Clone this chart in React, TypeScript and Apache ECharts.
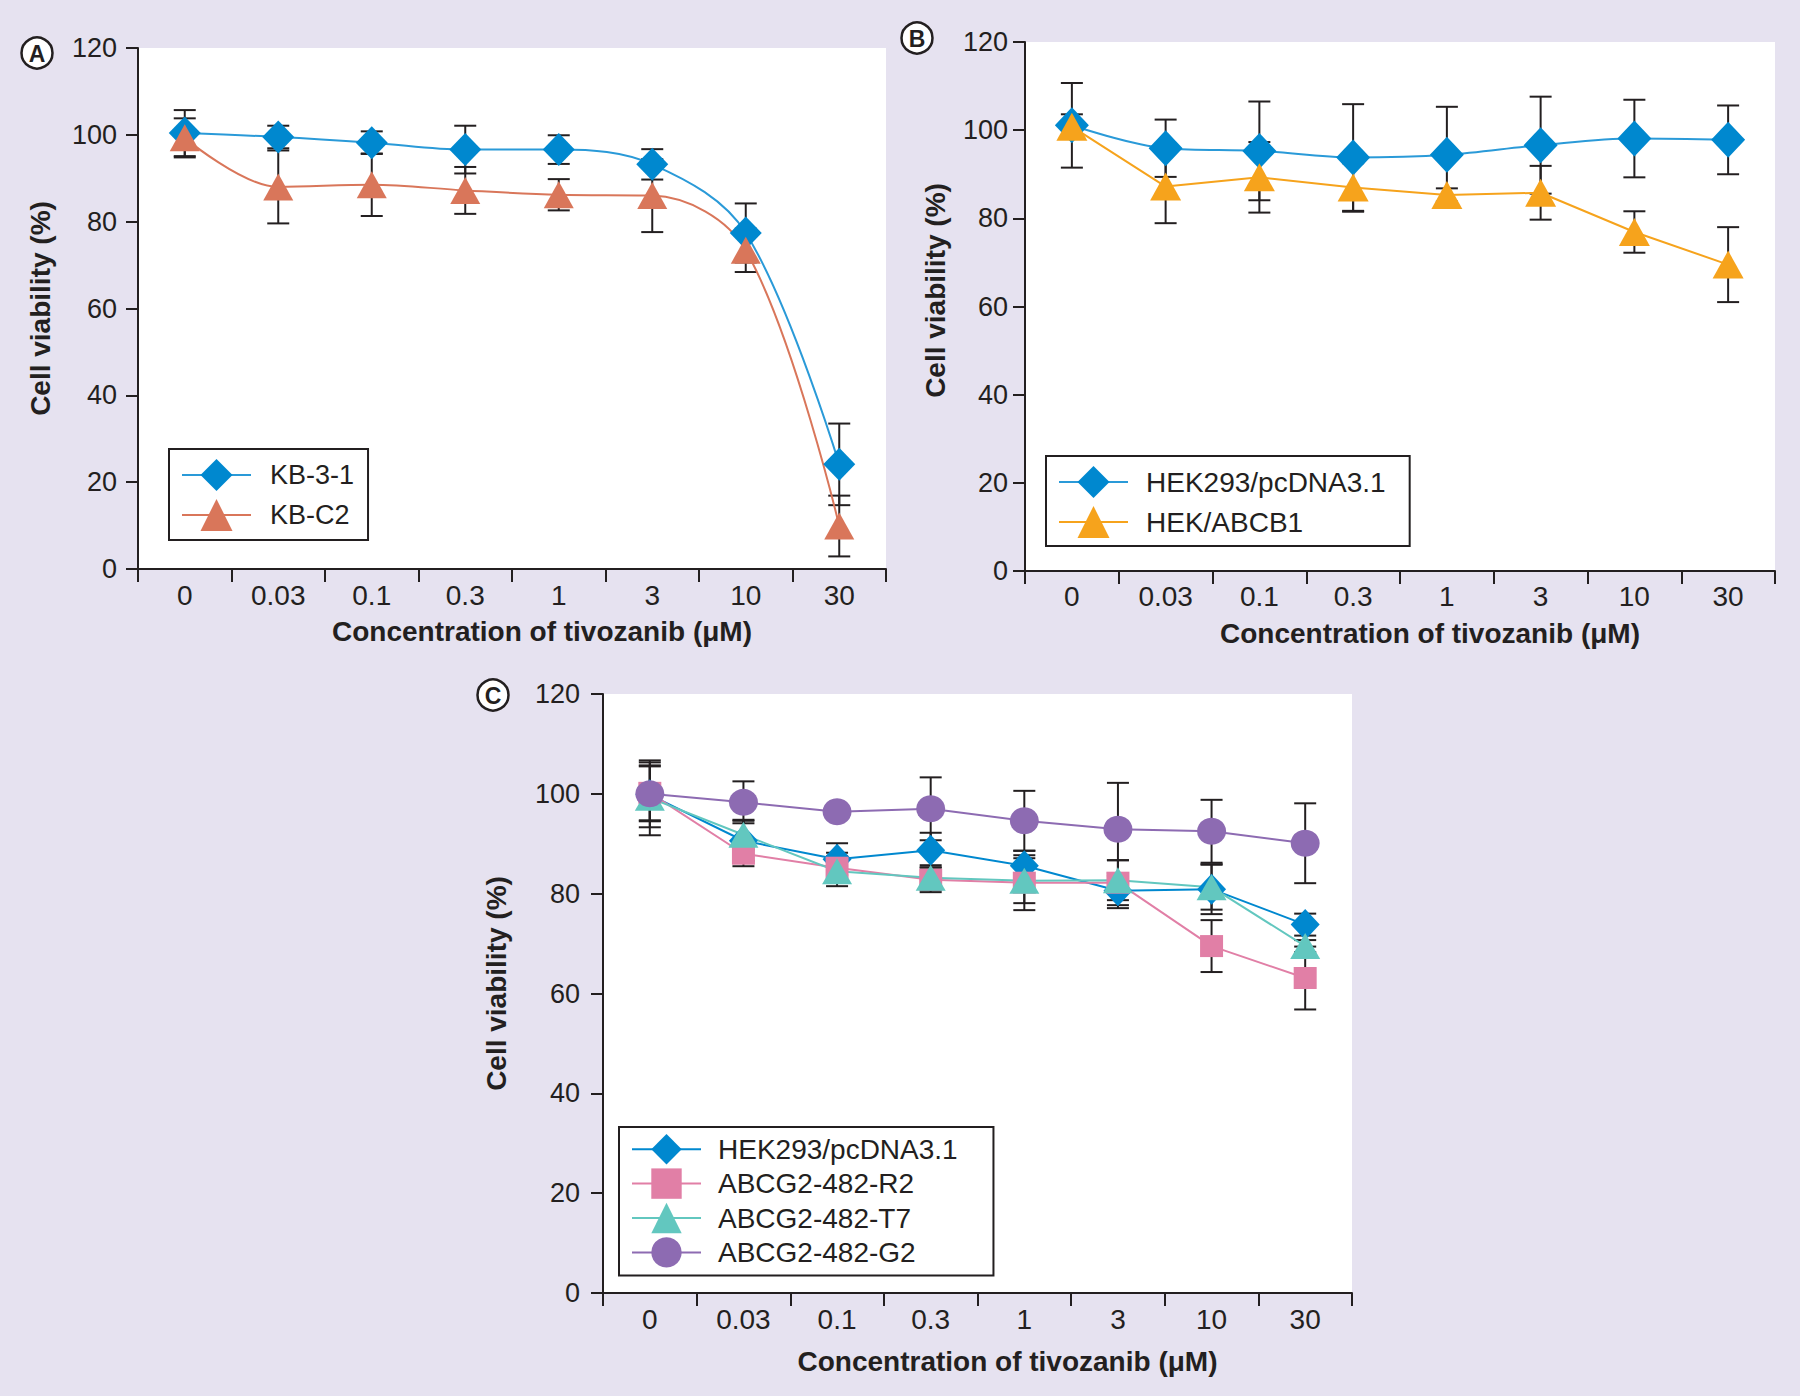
import React, { useEffect, useRef } from "react";
import * as echarts from "echarts";

// ---------- data ----------
const categories = ["0", "0.03", "0.1", "0.3", "1", "3", "10", "30"];
const yTicks = [0, 20, 40, 60, 80, 100, 120];

// Panel A
const kb31 = [100.4, 99.5, 98.2, 96.6, 96.6, 93.2, 77.4, 24.1];
const kb31Sd = [5.3, 2.6, 2.6, 5.5, 3.3, 3.5, 6.8, 9.4];
const kbc2 = [99.3, 88.0, 88.5, 87.2, 86.2, 86.0, 73.4, 9.9];
const kbc2Sd = [4.5, 8.4, 7.2, 5.4, 3.6, 8.4, 5.0, 7.0];

// Panel B
const hekB = [101.1, 95.9, 95.3, 93.8, 94.4, 96.6, 98.1, 97.8];
const hekBSd = [9.6, 6.5, 11.2, 12.1, 10.9, 11.0, 8.8, 7.8];
const abcb1 = [100.8, 87.2, 89.3, 87.0, 85.3, 85.8, 76.9, 69.5];
const abcb1Sd = [2.8, 8.3, 8.0, 5.5, 1.5, 6.1, 4.7, 8.5];

// Panel C
const hekC = [99.8, 90.6, 86.9, 88.7, 85.6, 80.6, 80.9, 73.8];
const hekCSd = [6.5, 4.0, 3.2, 3.5, 3.0, 3.5, 5.0, 2.2];
const r2 = [100.2, 88.0, 85.2, 82.8, 82.2, 82.2, 69.5, 63.1];
const r2Sd = [5.5, 2.5, 3.0, 2.5, 5.5, 4.5, 5.2, 6.3];
const t7 = [99.2, 91.8, 84.5, 83.2, 82.6, 82.7, 81.3, 69.5];
const t7Sd = [7.5, 3.0, 3.0, 2.5, 4.5, 4.0, 4.5, 1.2];
const g2 = [100.0, 98.3, 96.4, 97.0, 94.6, 92.9, 92.5, 90.1];
const g2Sd = [5.5, 4.2, 0.8, 6.3, 6.0, 9.3, 6.3, 8.0];

const xName = "Concentration of tivozanib (μM)";
const yName = "Cell viability (%)";

// ---------- styling ----------
const FONT = '"Liberation Sans", Arial, Helvetica, sans-serif';
const INK = "#231f20";
const BG = "#e6e2f0";
const BLUE = "#0088cf";
const BLUE_LINE = "#2a9ad8";
const SALMON = "#d9765a";
const ORANGE = "#f6a31c";
const PINK = "#e17fa6";
const TEAL = "#62c7bf";
const PURPLE = "#8d6bb2";

function errSeries(name: string, idx: number, means: number[], sd: number[]) {
  return {
    type: "custom",
    name,
    xAxisIndex: idx,
    yAxisIndex: idx,
    z: 1,
    silent: true,
    encode: { x: 0, y: 1 },
    data: means.map((m, i) => [i, m, sd[i]]),
    renderItem: (params: any, api: any) => {
      const i = api.value(0);
      const m = api.value(1);
      const s = api.value(2);
      const top = api.coord([i, m + s]);
      const bot = api.coord([i, m - s]);
      const hw = 11;
      const st = { stroke: INK, lineWidth: 2 };
      return {
        type: "group",
        children: [
          { type: "line", shape: { x1: top[0], y1: top[1], x2: bot[0], y2: bot[1] }, style: st },
          { type: "line", shape: { x1: top[0] - hw, y1: top[1], x2: top[0] + hw, y2: top[1] }, style: st },
          { type: "line", shape: { x1: bot[0] - hw, y1: bot[1], x2: bot[0] + hw, y2: bot[1] }, style: st },
        ],
      };
    },
  };
}

function lineSeries(
  name: string,
  idx: number,
  data: number[],
  color: string,
  lineColor: string,
  symbol: string,
  size: number | number[],
  smooth: boolean
) {
  return {
    type: "line",
    name,
    xAxisIndex: idx,
    yAxisIndex: idx,
    z: 3,
    data,
    smooth: smooth ? 0.35 : false,
    symbol,
    symbolSize: size,
    showSymbol: true,
    lineStyle: { color: lineColor, width: 2 },
    itemStyle: { color, borderWidth: 0 },
    emphasis: { disabled: true },
  };
}

function xAxis(idx: number, labelMargin: number, nameGap: number) {
  return {
    type: "category",
    gridIndex: idx,
    data: categories,
    boundaryGap: true,
    axisLine: { show: true, onZero: true, lineStyle: { color: INK, width: 2 } },
    axisTick: { show: true, interval: 0, alignWithLabel: false, length: 13, lineStyle: { color: INK, width: 2 } },
    axisLabel: { interval: 0, margin: labelMargin, fontSize: 28, color: INK, fontFamily: FONT },
    splitLine: { show: false },
    name: xName,
    nameLocation: "middle",
    nameGap,
    nameTextStyle: { fontSize: 28, fontWeight: "bold", color: INK, fontFamily: FONT, padding: [0, 0, 0, 60] },
  };
}

function yAxis(idx: number, labelMargin: number, nameGap: number, shiftUp: number) {
  return {
    type: "value",
    gridIndex: idx,
    min: yTicks[0],
    max: yTicks[yTicks.length - 1],
    interval: yTicks[1] - yTicks[0],
    axisLine: { show: true, lineStyle: { color: INK, width: 2 } },
    axisTick: { show: true, length: 12, lineStyle: { color: INK, width: 2 } },
    axisLabel: { margin: labelMargin, fontSize: 27, color: INK, fontFamily: FONT },
    splitLine: { show: false },
    name: yName,
    nameLocation: "middle",
    nameGap,
    nameTextStyle: {
      fontSize: 28,
      fontWeight: "bold",
      color: INK,
      fontFamily: FONT,
      padding: [0, 0, 0, shiftUp * 2],
    },
  };
}

function legend(names: string[], left: number, top: number, padding: number[], itemHeight: number, itemGap: number, textPad: number, fontSize: number) {
  return {
    data: names,
    orient: "vertical",
    left,
    top,
    padding,
    itemWidth: 69,
    itemHeight,
    itemGap,
    selectedMode: false,
    borderColor: INK,
    borderWidth: 2,
    borderRadius: 0,
    backgroundColor: "#ffffff",
    textStyle: { fontSize, color: INK, fontFamily: FONT, padding: [0, 0, 0, textPad] },
  };
}

function badge(letter: string, cx: number, cy: number) {
  return [
    { type: "circle", shape: { cx, cy, r: 15.5 }, style: { fill: "#ffffff", stroke: INK, lineWidth: 2.5 }, z: 10 },
    {
      type: "text",
      x: cx,
      y: cy + 1,
      z: 11,
      style: { text: letter, fontSize: 23, fontWeight: "bold", fill: INK, align: "center", verticalAlign: "middle", fontFamily: FONT },
    },
  ];
}

export default function App() {
  const ref = useRef<HTMLDivElement>(null);

  useEffect(() => {
    document.body.style.margin = "0";
    if (!ref.current) return;
    const chart = echarts.init(ref.current, undefined, { renderer: "svg" });
    const gridBase = { show: true, backgroundColor: "#ffffff", borderWidth: 0, containLabel: false };
    const option: any = {
      animation: false,
      backgroundColor: BG,
      textStyle: { fontFamily: FONT },
      grid: [
        { ...gridBase, left: 138, top: 48, width: 748, height: 521 },
        { ...gridBase, left: 1025, top: 42, width: 750, height: 529 },
        { ...gridBase, left: 603, top: 694, width: 749, height: 599 },
      ],
      xAxis: [xAxis(0, 12, 48), xAxis(1, 11, 48), xAxis(2, 12, 54)],
      yAxis: [yAxis(0, 21, 84, 0), yAxis(1, 17, 76, 16), yAxis(2, 23, 93, 10)],
      legend: [
        legend(["KB-3-1", "KB-C2"], 169, 449, [10, 14, 9, 12], 40, 8, 14, 27),
        legend(["HEK293/pcDNA3.1", "HEK/ABCB1"], 1046, 456, [10, 24, 8, 12], 40, 8, 13, 28),
        legend(["HEK293/pcDNA3.1 ", "ABCG2-482-R2", "ABCG2-482-T7", "ABCG2-482-G2"], 619, 1127, [7, 28, 8, 12], 38, 4, 12, 28),
      ],
      graphic: [...badge("A", 37, 53), ...badge("B", 917, 38), ...badge("C", 493, 695)],
      series: [
        // A
        errSeries("errA1", 0, kb31, kb31Sd),
        errSeries("errA2", 0, kbc2, kbc2Sd),
        lineSeries("KB-3-1", 0, kb31, BLUE, BLUE_LINE, "diamond", [32, 33], true),
        lineSeries("KB-C2", 0, kbc2, SALMON, SALMON, "triangle", [30, 27], true),
        // B
        errSeries("errB1", 1, hekB, hekBSd),
        errSeries("errB2", 1, abcb1, abcb1Sd),
        lineSeries("HEK293/pcDNA3.1", 1, hekB, BLUE, BLUE_LINE, "diamond", [34, 36], true),
        lineSeries("HEK/ABCB1", 1, abcb1, ORANGE, ORANGE, "triangle", [31, 28], false),
        // C
        errSeries("errC1", 2, hekC, hekCSd),
        errSeries("errC2", 2, r2, r2Sd),
        errSeries("errC3", 2, t7, t7Sd),
        errSeries("errC4", 2, g2, g2Sd),
        lineSeries("HEK293/pcDNA3.1 ", 2, hekC, BLUE, BLUE, "diamond", [29, 31], false),
        lineSeries("ABCG2-482-R2", 2, r2, PINK, PINK, "rect", [23, 22], false),
        lineSeries("ABCG2-482-T7", 2, t7, TEAL, TEAL, "triangle", [30, 26], false),
        lineSeries("ABCG2-482-G2", 2, g2, PURPLE, PURPLE, "circle", [29, 27], false),
      ],
    };
    chart.setOption(option);
    return () => chart.dispose();
  }, []);

  return <div ref={ref} style={{ width: 1800, height: 1396 }} />;
}
